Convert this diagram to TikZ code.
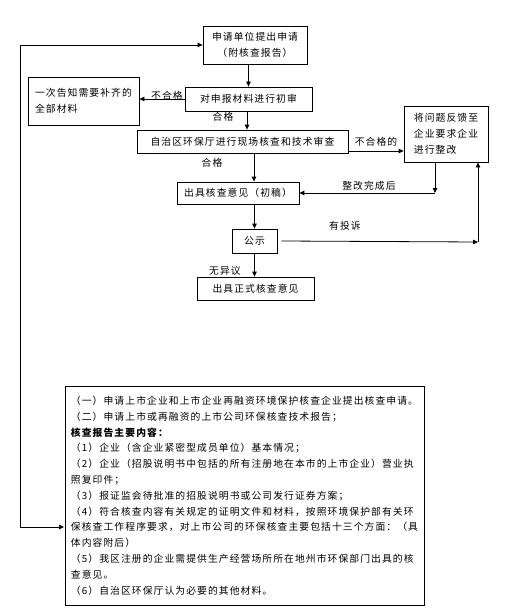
\documentclass[tikz,border=0pt]{standalone}
\usepackage{fontspec}
\newfontfamily\cjk[LetterSpace=11]{Noto Sans CJK SC}
\usetikzlibrary{arrows.meta}
\begin{document}
\begin{tikzpicture}[x=1pt,y=-1pt,
  every node/.style={font=\cjk\fontsize{9.8}{15.8}\selectfont},
  box/.style={draw,line width=0.8pt,inner sep=0pt,align=center},
  lbl/.style={inner sep=0pt},
  conn/.style={line width=0.8pt,-{Triangle[length=5pt,width=4.5pt]}},
  plain/.style={line width=0.8pt}]
\useasboundingbox (0,0) rectangle (510,615);
% boxes
\node[box,minimum width=104pt,minimum height=38pt] (b1) at (255,45) {申请单位提出申请\\（附核查报告）};
\node[box,minimum width=127pt,minimum height=24pt] (b2) at (248.5,99) {对申报材料进行初审};
\node[box,minimum width=111pt,minimum height=48pt,align=left] (nb) at (83.5,101) {一次告知需要补齐的\\全部材料};
\node[box,minimum width=211pt,minimum height=23pt] (b3) at (242.5,141.5) {自治区环保厅进行现场核查和技术审查};
\node[box,minimum width=84pt,minimum height=56pt,align=left] (b4) at (446,134) {将问题反馈至\\企业要求企业\\进行整改};
\node[box,minimum width=122pt,minimum height=22pt] (b5) at (238,193) {出具核查意见（初稿）};
\node[box,minimum width=45pt,minimum height=24pt] (b6) at (254.5,241) {公示};
\node[box,minimum width=117pt,minimum height=23pt] (b7) at (255.5,288.5) {出具正式核查意见};
\node[box,minimum width=359pt,minimum height=219pt,align=left] (bb) at (244.5,495.5) {%
（一）申请上市企业和上市企业再融资环境保护核查企业提出核查申请。\\
（二）申请上市或再融资的上市公司环保核查技术报告；\\
{\bfseries 核查报告主要内容：}\\
（1）企业（含企业紧密型成员单位）基本情况；\\
（2）企业（招股说明书中包括的所有注册地在本市的上市企业）营业执\\
照复印件；\\
（3）报证监会待批准的招股说明书或公司发行证券方案；\\
（4）符合核查内容有关规定的证明文件和材料，按照环境保护部有关环\\
保核查工作程序要求，对上市公司的环保核查主要包括十三个方面：（具\\
体内容附后）\\
（5）我区注册的企业需提供生产经营场所所在地州市环保部门出具的核\\
查意见。\\
（6）自治区环保厅认为必要的其他材料。};
% labels
\node[lbl] (l1) at (167,96) {不合格};
\node[lbl] (l2) at (223,117) {合格};
\node[lbl] (l3) at (376,142) {不合格的};
\node[lbl] (l4) at (212,163) {合格};
\node[lbl] (l5) at (369,186) {整改完成后};
\node[lbl] (l6) at (345,226) {有投诉};
\node[lbl] (l7) at (225,271) {无异议};
% coordinates
\coordinate (L) at (20,45);
\coordinate (bbin) at (64,527);
\coordinate (c1) at (435,193);
\coordinate (c2) at (478,242);
% connectors
\draw[conn] (b2.north |- b1.south) -- (b2.north);
\draw[conn] (b2.west) -- (b2.west -| nb.east);
\draw[conn] ([xshift=-1.5pt]b2.south) -- ([xshift=-1.5pt]b2.south |- b3.north);
\draw[conn] ([yshift=-9.5pt]b3.east) -- ([yshift=-9.5pt]b3.east -| b4.west);
\draw[conn] ([xshift=11.5pt]b3.south) -- ([xshift=11.5pt]b3.south |- b5.north);
\draw[conn] (c1 |- b4.south) -- (c1);
\draw[conn] (c1) -- (b5.east);
\draw[conn] (b6.north |- b5.south) -- (b6.north);
\draw[conn] (b6.south) -- (b6.south |- b7.north);
\draw[conn] ([xshift=4pt]b6.east) -- (c2);
\draw[conn] (c2) -- (c2 |- b4.south);
\draw[plain] (bbin -| L) -- (L);
\draw[conn] (L) -- (b1.west);
\draw[conn] (bbin -| L) -- (bbin);
\end{tikzpicture}
\end{document}
